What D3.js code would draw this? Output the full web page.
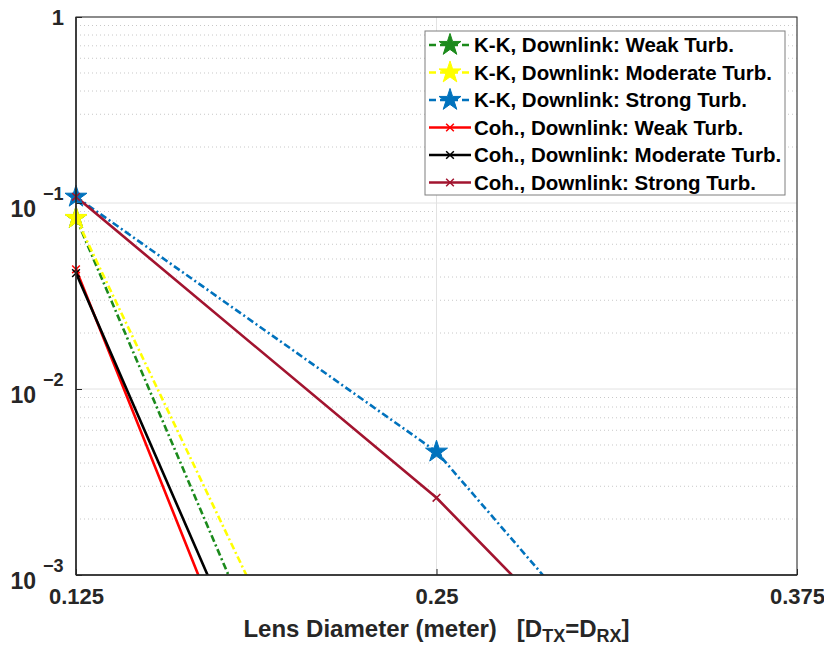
<!DOCTYPE html>
<html>
<head>
<meta charset="utf-8">
<script src="https://cdn.jsdelivr.net/npm/d3@7"></script>
<style>
  body { margin: 0; background: #fff; }
  text { font-family: "Liberation Sans", Arial, sans-serif; font-weight: bold; white-space: pre; }
</style>
</head>
<body>
<svg id="chart" width="824" height="646"></svg>
<script>
// lens diameters (meter)
var diameters = [0.125, 0.25, 0.375];
// outage probability, one array per curve
var kkWeak = [0.083, 2.4e-6, 1e-9];
var kkModerate = [0.083, 7.2e-6, 1e-9];
var kkStrong = [0.108, 0.0046, 2.6e-5];
var cohWeak = [0.044, 6.3e-7, 1e-10];
var cohModerate = [0.042, 1.5e-6, 1e-10];
var cohStrong = [0.108, 0.0026, 2.7e-5];

var names = ["K-K, Downlink: Weak Turb.", "K-K, Downlink: Moderate Turb.", "K-K, Downlink: Strong Turb.",
             "Coh., Downlink: Weak Turb.", "Coh., Downlink: Moderate Turb.", "Coh., Downlink: Strong Turb."];
var xTicks = [0.125, 0.25, 0.375];
var yTicks = [1e-3, 1e-2, 1e-1, 1];

var series = [
  {name: names[0], vals: kkWeak, color: "#1b8a1b", dash: "7,3,2,3", mark: "star"},
  {name: names[1], vals: kkModerate, color: "#ffff00", dash: "7,3,2,3", mark: "star"},
  {name: names[2], vals: kkStrong, color: "#0072bd", dash: "7,3,2,3", mark: "star"},
  {name: names[3], vals: cohWeak, color: "#ff0000", dash: null, mark: "x"},
  {name: names[4], vals: cohModerate, color: "#000000", dash: null, mark: "x"},
  {name: names[5], vals: cohStrong, color: "#a2142f", dash: null, mark: "x"}
];

var margin = {top: 17, right: 27, bottom: 71, left: 76};
var width = 824 - margin.left - margin.right;
var height = 646 - margin.top - margin.bottom;

var svg = d3.select("#chart");
var g = svg.append("g").attr("transform", "translate(" + margin.left + "," + margin.top + ")");

var x = d3.scaleLinear().domain([0.125, 0.375]).range([0, width]);
var y = d3.scaleLog().domain([1e-3, 1]).range([height, 0]);

// minor grid (dotted)
var minor = [];
[1e-3, 1e-2, 1e-1].forEach(function(d) {
  for (var k = 2; k <= 9; k++) minor.push(d * k);
});
g.selectAll(".minor").data(minor).enter().append("line")
  .attr("x1", 0).attr("x2", width)
  .attr("y1", function(d) { return y(d); }).attr("y2", function(d) { return y(d); })
  .attr("stroke", "#c8c8c8").attr("stroke-width", 1).attr("stroke-dasharray", "1,3");

// major grid
g.selectAll(".ymaj").data(yTicks).enter().append("line")
  .attr("x1", 0).attr("x2", width)
  .attr("y1", function(d) { return y(d); }).attr("y2", function(d) { return y(d); })
  .attr("stroke", "#e2e2e2").attr("stroke-width", 1);
g.selectAll(".xmaj").data(xTicks).enter().append("line")
  .attr("y1", 0).attr("y2", height)
  .attr("x1", function(d) { return x(d); }).attr("x2", function(d) { return x(d); })
  .attr("stroke", "#e2e2e2").attr("stroke-width", 1);

// clip region
svg.append("defs").append("clipPath").attr("id", "clip")
  .append("rect").attr("width", width).attr("height", height);

var line = d3.line()
  .x(function(d, i) { return x(diameters[i]); })
  .y(function(d) { return y(d); });

var plot = g.append("g").attr("clip-path", "url(#clip)");

var star = d3.symbol().type(d3.symbolStar).size(150);
var cross = d3.symbol().type(d3.symbolTimes).size(40);

function drawMarker(sel, s, cx, cy) {
  if (s.mark === "star") {
    sel.append("path").attr("d", star).attr("transform", "translate(" + cx + "," + cy + ")")
      .attr("fill", s.color).attr("stroke", s.color).attr("stroke-width", 1);
  } else {
    sel.append("path").attr("d", cross).attr("transform", "translate(" + cx + "," + cy + ")")
      .attr("fill", s.color).attr("stroke", s.color).attr("stroke-width", 1.5);
  }
}

// draw order so overlaps match the picture
var order = [2, 5, 0, 1, 3, 4];
order.forEach(function(idx) {
  var s = series[idx];
  plot.append("path").datum(s.vals).attr("d", line)
    .attr("fill", "none").attr("stroke", s.color).attr("stroke-width", 2.6)
    .attr("stroke-dasharray", s.dash);
});
order.forEach(function(idx) {
  var s = series[idx];
  s.vals.forEach(function(v, i) {
    if (v >= 1e-3 && v <= 1) drawMarker(g, s, x(diameters[i]), y(v));
  });
});

// axes box
g.append("rect").attr("width", width).attr("height", height)
  .attr("fill", "none").attr("stroke", "#262626").attr("stroke-width", 1);
g.append("line").attr("x1", 0).attr("x2", width).attr("y1", height).attr("y2", height)
  .attr("stroke", "#262626").attr("stroke-width", 1.5);
g.append("line").attr("x1", 0).attr("x2", 0).attr("y1", 0).attr("y2", height)
  .attr("stroke", "#262626").attr("stroke-width", 1.5);

// x axis
var xAxis = d3.axisBottom(x).tickValues(xTicks).tickSize(-6).tickPadding(13)
  .tickFormat(function(d) { return d3.format("")(d); });
var xa = g.append("g").attr("transform", "translate(0," + height + ")").call(xAxis);
xa.select(".domain").remove();
xa.selectAll("line").attr("stroke", "#262626");
xa.selectAll("text").attr("font-size", 22).attr("fill", "#262626").attr("font-weight", "bold");

// y axis
var yAxis = d3.axisLeft(y).tickValues(yTicks).tickSize(-6).tickFormat("");
var ya = g.append("g").call(yAxis);
ya.select(".domain").remove();
ya.selectAll("line").attr("stroke", "#262626");
yTicks.forEach(function(d) {
  var e = Math.round(Math.log10(d));
  if (e === 0) {
    g.append("text").attr("text-anchor", "end").attr("fill", "#262626")
      .attr("font-size", 22).attr("x", -12).attr("y", y(d) + 8).text("1");
  } else {
    g.append("text").attr("text-anchor", "end").attr("fill", "#262626")
      .attr("font-size", 23).attr("x", -40).attr("y", y(d) + 14).text("10");
    g.append("text").attr("text-anchor", "start").attr("fill", "#262626")
      .attr("font-size", 18).attr("x", -33).attr("y", y(d) - 3).text("\u2212" + Math.abs(e));
  }
});

// x label
var xl = svg.append("text").attr("x", margin.left + width / 2).attr("y", 637)
  .attr("text-anchor", "middle").attr("font-size", 24).attr("fill", "#262626");
xl.append("tspan").text("Lens Diameter (meter)   [D");
xl.append("tspan").attr("dy", 5).attr("font-size", 18).text("TX");
xl.append("tspan").attr("dy", -5).text("=D");
xl.append("tspan").attr("dy", 5).attr("font-size", 18).text("RX");
xl.append("tspan").attr("dy", -5).text("]");

// legend
var lx = 425, ly = 31, rowH = 27.5;
var leg = svg.append("g");
leg.append("rect").attr("x", lx).attr("y", ly).attr("width", 360).attr("height", 164)
  .attr("fill", "#fff").attr("stroke", "#7f7f7f").attr("stroke-width", 1);
series.forEach(function(s, i) {
  var cy = ly + 14 + i * rowH;
  leg.append("line").attr("x1", lx + 4).attr("x2", lx + 46).attr("y1", cy).attr("y2", cy)
    .attr("stroke", s.color).attr("stroke-width", 2.6)
    .attr("stroke-dasharray", s.dash ? "7,4" : null);
  drawMarker(leg, s, lx + 25, cy);
  leg.append("text").attr("x", lx + 49).attr("y", cy + 7).attr("font-size", 20.5)
    .attr("fill", "#000").text(s.name);
});
</script>
</body>
</html>
